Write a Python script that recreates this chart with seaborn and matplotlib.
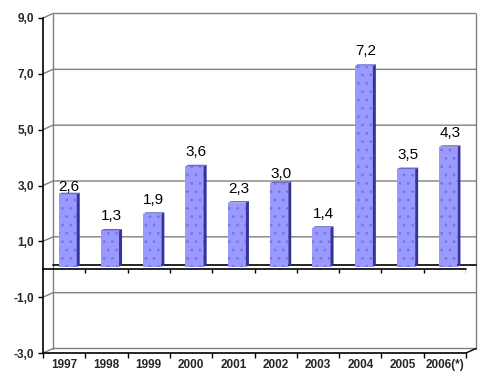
import matplotlib
matplotlib.use('Agg')
import matplotlib.pyplot as plt
from matplotlib.patches import Polygon
import seaborn as sns
import pandas as pd

# data
years = ['1997', '1998', '1999', '2000', '2001', '2002', '2003', '2004', '2005', '2006(*)']
values = [2.6, 1.3, 1.9, 3.6, 2.3, 3.0, 1.4, 7.2, 3.5, 4.3]
y_ticks = [-3, -1, 1, 3, 5, 7, 9]
# gap (pixels) between bar top and its value label, as in the original
label_gap = [3, 10, 10, 10, 10, 5, 10, 11, 10, 10]

sns.set_theme(style='white')
plt.rcParams['font.family'] = ['Liberation Sans', 'DejaVu Sans']
plt.rcParams['hatch.linewidth'] = 0.8

df = pd.DataFrame({'year': years, 'value': values})

fig = plt.figure(figsize=(4.87, 3.87), dpi=100)
ax = fig.add_axes([43 / 487, 34 / 387, 423 / 487, 335 / 387])

sns.barplot(data=df, x='year', y='value', color='#9999ff', width=0.43,
            saturation=1, linewidth=0, ax=ax, zorder=3)
ax.set_xlim(-0.5, len(years) - 0.5)
ax.set_ylim(y_ticks[0], y_ticks[-1])

# pixel -> data conversion for the fake 3D depth
px_x = 423 / len(years)
px_y = 335 / (y_ticks[-1] - y_ticks[0])
DX, DY = 10 / px_x, 4.5 / px_y
bar_dx, bar_dy = 3.5 / px_x, 2.5 / px_y
side_w, side_h = 3 / px_x, 1.5 / px_y

# bars: shift to the middle of the depth, add side and top faces
for p, v, gap in zip(ax.patches, values, label_gap):
    x0 = p.get_x() + bar_dx
    p.set_x(x0)
    p.set_y(bar_dy)
    p.set_hatch('..')
    p.set_edgecolor('#7878d8')
    x1 = x0 + p.get_width()
    top = bar_dy + v
    ax.add_patch(Polygon([(x1, bar_dy), (x1 + side_w, bar_dy + side_h),
                          (x1 + side_w, top + side_h), (x1, top)],
                         closed=True, color='#333399', lw=0, zorder=3))
    ax.add_patch(Polygon([(x0, top), (x0 + side_w, top + side_h),
                          (x1 + side_w, top + side_h), (x1, top)],
                         closed=True, color='#6a6acc', lw=0, zorder=3))
    ax.annotate(f'{v:.1f}'.replace('.', ','), (x0 + p.get_width() / 2 + side_w / 2, top),
                xytext=(0, gap), textcoords='offset pixels', ha='center',
                va='baseline', fontsize=11, color='black', zorder=5)

# back wall and gridlines
xl, xr = -0.5, len(years) - 0.5
for t in y_ticks:
    ax.plot([xl, xl + DX, xr + DX], [t, t + DY, t + DY], color='#808080',
            lw=1, clip_on=False, zorder=1)
ax.plot([xl + DX, xl + DX], [y_ticks[0] + DY, y_ticks[-1] + DY], color='#808080',
        lw=1, clip_on=False, zorder=1)
ax.plot([xr + DX, xr + DX], [y_ticks[0] + DY, y_ticks[-1] + DY], color='#808080',
        lw=1, clip_on=False, zorder=1)
ax.plot([xr, xr + DX], [y_ticks[0], y_ticks[0] + DY], color='black',
        lw=1, clip_on=False, zorder=2)

# zero lines (back and front) with ticks
ax.plot([xl + DX, xr + DX], [DY, DY], color='black', lw=1.2, clip_on=False, zorder=2)
ax.plot([xl, xr], [0, 0], color='black', lw=1.2, clip_on=False, zorder=4)
bounds = [i + 0.5 for i in range(-1, len(years))]
ax.vlines(bounds[1:], -4 / px_y, 0, color='black', lw=1, zorder=4)

# axes and ticks
for s in ['top', 'right']:
    ax.spines[s].set_visible(False)
for s in ['left', 'bottom']:
    ax.spines[s].set_color('black')
    ax.spines[s].set_linewidth(1.2)

ax.set_yticks(y_ticks)
ax.set_yticklabels([f'{t:.1f}'.replace('.', ',') for t in y_ticks],
                   fontweight='bold', fontsize=8.5)
ax.tick_params(axis='y', left=True, direction='out', length=3.5, width=1,
               color='black', pad=3)
ax.set_xticks(range(len(years)))
ax.set_xticklabels(years, fontweight='bold', fontsize=8.5)
ax.set_xticks(bounds, minor=True)
ax.tick_params(axis='x', which='major', length=0, pad=4)
ax.tick_params(axis='x', which='minor', bottom=True, direction='out',
               length=3.5, width=1, color='black')
ax.set_xlabel('')
ax.set_ylabel('')
ax.grid(False)

fig.savefig('out.png', dpi=100)
